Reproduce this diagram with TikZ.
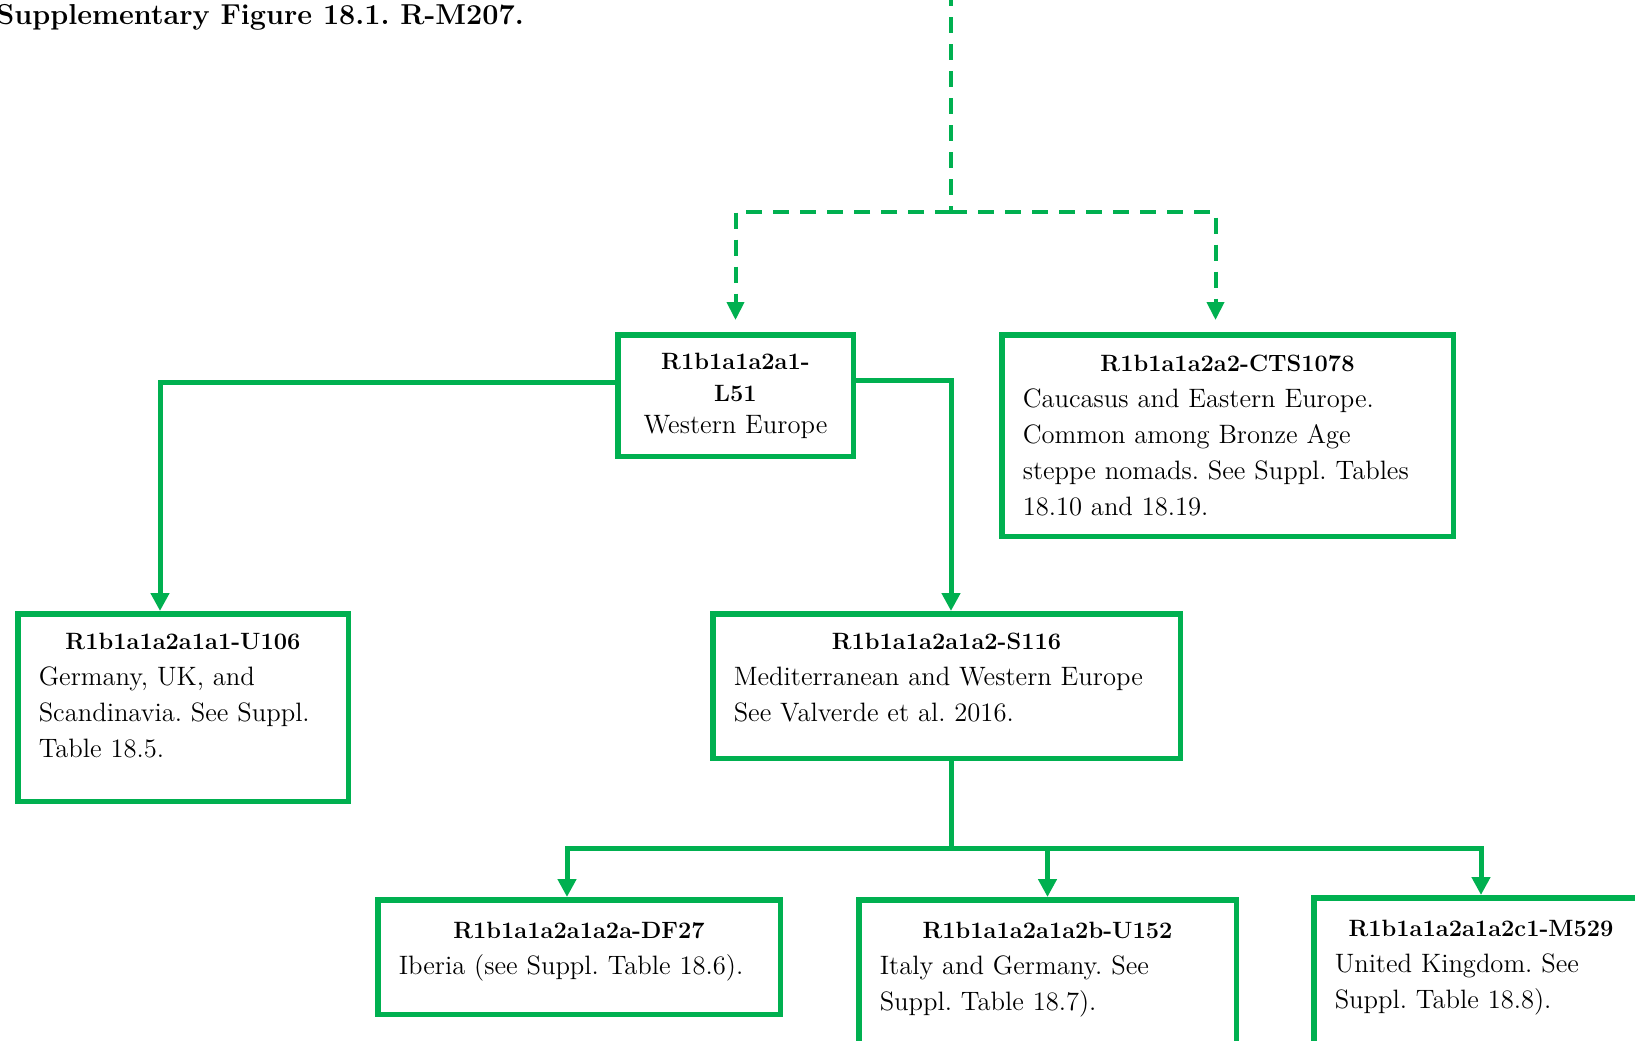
\documentclass[tikz,border=0pt]{standalone}
\usepackage{tikz}
\usepackage{xcolor}
\usetikzlibrary{arrows.meta, positioning}

\definecolor{hapgreen}{RGB}{0,176,80}
\newcommand{\hapname}[1]{{\centering\fontsize{11.8}{18}\selectfont\bfseries #1\par}}
\newcommand{\lift}[1]{\rule[-#1]{0pt}{0pt}}

\begin{document}
\frenchspacing
\begin{tikzpicture}[
    x=0.5pt, y=-0.5pt,
    hapbox/.style={
        rectangle,
        draw=hapgreen,
        line width=2.75pt,
        align=left,
        inner xsep=10.5pt,
        inner ysep=2pt,
        font=\fontsize{13.3}{18}\selectfont
    },
    link/.style={draw=hapgreen, line width=2.5pt},
    arrow/.style={link, -{Triangle[width=9pt,length=9pt]}},
    dashlink/.style={draw=hapgreen, line width=2pt, dash pattern=on 8pt off 5.5pt},
    dasharrow/.style={dashlink, -{Triangle[width=8.5pt,length=9pt]}, shorten >=6pt}
]
\useasboundingbox (0,0) rectangle (1635,1040);

% Title
\node (title) [anchor=base west, inner sep=0pt, font=\fontsize{14.4}{16}\selectfont\bfseries] at (-4,24) {Supplementary Figure 18.1. R-M207.};

% Root and split
\coordinate (root) at (951,-10);
\coordinate (split) at (951,212);

% L51
\node (l51) [hapbox, anchor=north west, align=center, text width=96.75pt, minimum height=60.75pt,
    font=\fontsize{13.3}{16}\selectfont] at (615,332)
    {{\centering\fontsize{11.8}{16}\selectfont\bfseries R1b1a1a2a1-\\L51\par}Western Europe};

% CTS1078
\node (cts) [hapbox, anchor=north west, text width=204.75pt, minimum height=100.75pt] at (999,332)
    {\hapname{R1b1a1a2a2-CTS1078}Caucasus and Eastern Europe.\\Common among Bronze Age\\steppe nomads. See Suppl. Tables\\18.10 and 18.19.};

% U106
\node (u106) [hapbox, anchor=north west, text width=144.25pt, minimum height=93.75pt] at (15,611)
    {\hapname{R1b1a1a2a1a1-U106}Germany, UK, and\\Scandinavia. See Suppl.\\Table 18.5.\lift{12.5pt}};

% S116
\node (s116) [hapbox, anchor=north west, text width=212.75pt, minimum height=72.25pt] at (710,611)
    {\hapname{R1b1a1a2a1a2-S116}Mediterranean and Western Europe\\See Valverde et al. 2016.\lift{8.5pt}};

% DF27
\node (df27) [hapbox, anchor=north west, text width=180.25pt, minimum height=57.25pt] at (375,897)
    {\hapname{R1b1a1a2a1a2a-DF27}Iberia (see Suppl. Table 18.6).\lift{8.5pt}};

% U152
\node (u152) [hapbox, anchor=north west, text width=167.75pt, minimum height=75pt] at (856,897)
    {\hapname{R1b1a1a2a1a2b-U152}Italy and Germany. See\\Suppl. Table 18.7).\lift{8.5pt}};

% M529
\node (m529) [hapbox, anchor=north west, text width=146.25pt, minimum height=75pt] at (1311,895)
    {\hapname{R1b1a1a2a1a2c1-M529}United Kingdom. See\\Suppl. Table 18.8).\lift{8.5pt}};

% Dashed connections
\draw [dashlink] (root) -- (split);
\draw [dasharrow] (split) -| (l51.north);
\draw [dasharrow] (split) -| ([xshift=-6pt]cts.north);

% Connections
\draw [arrow] ([yshift=6.75pt]l51.west) -| ([xshift=-11.5pt]u106.north);
\draw [arrow] ([yshift=7.75pt]l51.east) -| ([xshift=2.25pt]s116.north);

\coordinate (bus) at (951,848);
\draw [link] ([xshift=2.25pt]s116.south) -- (bus);
\draw [arrow] (bus) -| ([xshift=-6pt]df27.north);
\draw [arrow] (bus) -| (u152.north);
\draw [arrow] (bus) -| (m529.north);

\end{tikzpicture}
\end{document}
